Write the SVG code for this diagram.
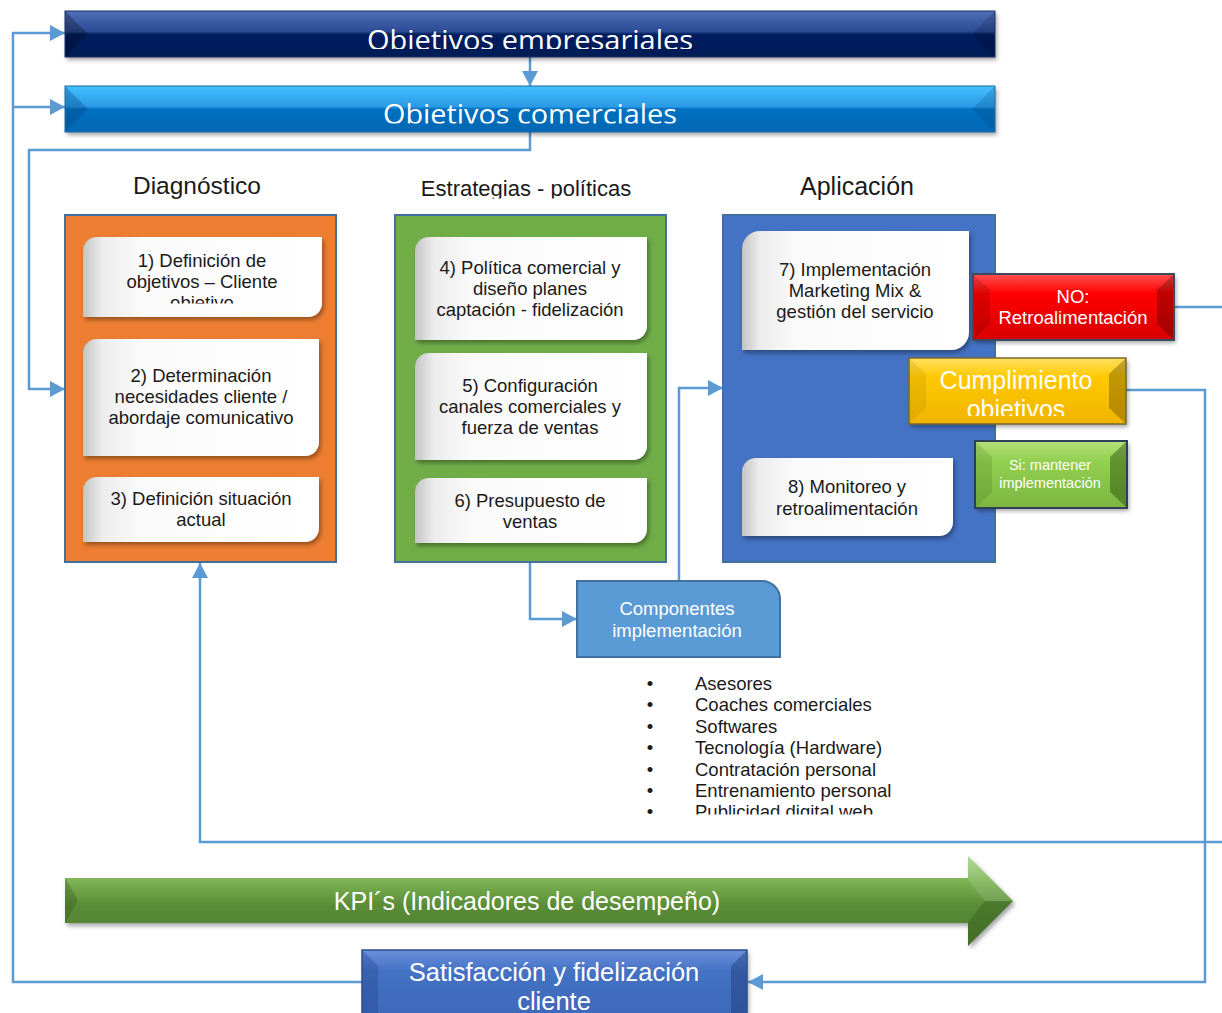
<svg xmlns="http://www.w3.org/2000/svg" width="1222" height="1013" viewBox="0 0 1222 1013">
  <style>
    .t { font-family: "Liberation Sans", Arial, sans-serif; fill: #1a1a1a; }
    .w { font-family: "Liberation Sans", Arial, sans-serif; fill: #ffffff; }
    .c { font-family: "Open Sans", "Liberation Sans", sans-serif; fill: #ffffff; }
    .mid { text-anchor: middle; }
    .conn { fill: none; stroke: #5b9bd5; stroke-width: 2.5; }
    .frame { stroke: #41719c; stroke-width: 2; }
    .card { fill: url(#cardFill); filter: url(#shadow); }
  </style>
  <defs>
    <marker id="arrow" markerUnits="userSpaceOnUse" markerWidth="16" markerHeight="16" refX="15" refY="8" orient="auto">
      <path d="M0,0 L15,8 L0,16 Z" fill="#5b9bd5"/>
    </marker>
    <filter id="shadow" x="-10%" y="-10%" width="125%" height="130%">
      <feDropShadow dx="2" dy="3" stdDeviation="2" flood-color="#000" flood-opacity="0.35"/>
    </filter>
    <linearGradient id="cardFill" x1="0" y1="0" x2="1" y2="0">
      <stop offset="0" stop-color="#c4c4c4"/>
      <stop offset="0.08" stop-color="#ececec"/>
      <stop offset="0.25" stop-color="#fbfbfb"/>
      <stop offset="1" stop-color="#ffffff"/>
    </linearGradient>
    <linearGradient id="navy" x1="0" y1="0" x2="0" y2="1">
      <stop offset="0" stop-color="#5070b8"/>
      <stop offset="0.45" stop-color="#2a4a94"/>
      <stop offset="0.5" stop-color="#002060"/>
      <stop offset="1" stop-color="#001b55"/>
    </linearGradient>
    <linearGradient id="sky" x1="0" y1="0" x2="0" y2="1">
      <stop offset="0" stop-color="#45c0ff"/>
      <stop offset="0.45" stop-color="#2a9ae6"/>
      <stop offset="0.5" stop-color="#0070c0"/>
      <stop offset="1" stop-color="#0068b4"/>
    </linearGradient>
    <linearGradient id="royal" x1="0" y1="0" x2="0" y2="1">
      <stop offset="0" stop-color="#6b90dc"/>
      <stop offset="0.3" stop-color="#4472c4"/>
      <stop offset="1" stop-color="#3d68b8"/>
    </linearGradient>
    <linearGradient id="red" x1="0" y1="0" x2="0" y2="1">
      <stop offset="0" stop-color="#ff5050"/>
      <stop offset="0.3" stop-color="#ff0000"/>
      <stop offset="1" stop-color="#d80000"/>
    </linearGradient>
    <linearGradient id="gold" x1="0" y1="0" x2="0" y2="1">
      <stop offset="0" stop-color="#ffe060"/>
      <stop offset="0.3" stop-color="#ffc800"/>
      <stop offset="1" stop-color="#f0b400"/>
    </linearGradient>
    <linearGradient id="lime" x1="0" y1="0" x2="0" y2="1">
      <stop offset="0" stop-color="#b4e07a"/>
      <stop offset="0.3" stop-color="#92d050"/>
      <stop offset="1" stop-color="#7cb640"/>
    </linearGradient>
    <linearGradient id="kpi" x1="0" y1="0" x2="0" y2="1">
      <stop offset="0" stop-color="#a9d88a"/>
      <stop offset="0.3" stop-color="#79b050"/>
      <stop offset="0.55" stop-color="#5a8c36"/>
      <stop offset="1" stop-color="#507e30"/>
    </linearGradient>
    <clipPath id="clipBar1"><rect x="65" y="11" width="930" height="38"/></clipPath>
    <clipPath id="clipBar2"><rect x="65" y="86" width="930" height="37.5"/></clipPath>
    <clipPath id="clipHead2"><rect x="395" y="160" width="270" height="38.5"/></clipPath>
    <clipPath id="clipCard1"><rect x="83" y="237" width="239" height="66.5"/></clipPath>
    <clipPath id="clipGoal"><rect x="909" y="358" width="217" height="58"/></clipPath>
    <clipPath id="clipList"><rect x="600" y="660" width="400" height="154.5"/></clipPath>
    <clipPath id="clipSat"><rect x="362" y="950" width="385" height="60"/></clipPath>
  </defs>

  <rect width="1222" height="1013" fill="#ffffff"/>

  <!-- connectors -->
  <g id="connectors">
    <path class="conn" d="M530,57 V86" marker-end="url(#arrow)"/>
    <path class="conn" d="M530,132 V150 H29 V389 H65" marker-end="url(#arrow)"/>
    <path class="conn" d="M362,982 H13 V33 H65" marker-end="url(#arrow)"/>
    <path class="conn" d="M13,107 H65" marker-end="url(#arrow)"/>
    <path class="conn" d="M530,562 V619 H577" marker-end="url(#arrow)"/>
    <path class="conn" d="M679,581 V388 H723" marker-end="url(#arrow)"/>
    <path class="conn" d="M1175,307 H1222"/>
    <path class="conn" d="M1126,390 H1205 V982 H748" marker-end="url(#arrow)"/>
    <path class="conn" d="M1222,842 H200 V563" marker-end="url(#arrow)"/>
  </g>

  <!-- top bars -->
  <g id="objetivos-empresariales">
    <rect x="65" y="11" width="930" height="46" fill="url(#navy)" filter="url(#shadow)"/>
    <polygon points="65,11 88,34 65,57" fill="#000" opacity="0.25"/>
    <polygon points="995,11 972,34 995,57" fill="#000" opacity="0.15"/>
    <rect x="65" y="11" width="930" height="46" fill="none" stroke="#1a2f66" stroke-width="1"/>
    <text class="c mid" x="530" y="49.5" font-size="26.5" textLength="326" lengthAdjust="spacingAndGlyphs" clip-path="url(#clipBar1)">Objetivos empresariales</text>
  </g>
  <g id="objetivos-comerciales">
    <rect x="65" y="86" width="930" height="46" fill="url(#sky)" filter="url(#shadow)"/>
    <polygon points="65,86 88,109 65,132" fill="#003a70" opacity="0.3"/>
    <polygon points="995,86 972,109 995,132" fill="#003a70" opacity="0.2"/>
    <rect x="65" y="86" width="930" height="46" fill="none" stroke="#1e6aa8" stroke-width="1"/>
    <text class="c mid" x="530" y="123.5" font-size="26.5" textLength="294" lengthAdjust="spacingAndGlyphs" clip-path="url(#clipBar2)">Objetivos comerciales</text>
  </g>

  <!-- section headings -->
  <text class="t mid" x="197" y="194" font-size="24.5">Diagnóstico</text>
  <text class="t mid" x="526" y="196" font-size="22" clip-path="url(#clipHead2)">Estrategias - políticas</text>
  <text class="t mid" x="857" y="195" font-size="25">Aplicación</text>

  <!-- Diagnóstico -->
  <g id="diagnostico">
    <rect class="frame" x="65" y="215" width="271" height="347" fill="#ed7d31"/>
    <g id="paso-1">
      <path class="card" d="M97,237 H322 V303 A14,14 0 0 1 308,317 H83 V251 A14,14 0 0 1 97,237 Z"/>
      <g clip-path="url(#clipCard1)">
        <text class="t mid" x="202" y="267" font-size="18.5">1) Definición de</text>
        <text class="t mid" x="202" y="288" font-size="18.5">objetivos – Cliente</text>
        <text class="t mid" x="202" y="309" font-size="18.5">objetivo</text>
      </g>
    </g>
    <g id="paso-2">
      <path class="card" d="M97,339 H319 V442 A14,14 0 0 1 305,456 H83 V353 A14,14 0 0 1 97,339 Z"/>
      <text class="t mid" x="201" y="382" font-size="18.5">2) Determinación</text>
      <text class="t mid" x="201" y="403" font-size="18.5">necesidades cliente /</text>
      <text class="t mid" x="201" y="424" font-size="18.5">abordaje comunicativo</text>
    </g>
    <g id="paso-3">
      <path class="card" d="M97,477 H319 V528 A14,14 0 0 1 305,542 H83 V491 A14,14 0 0 1 97,477 Z"/>
      <text class="t mid" x="201" y="505" font-size="18.5">3) Definición situación</text>
      <text class="t mid" x="201" y="526" font-size="18.5">actual</text>
    </g>
  </g>

  <!-- Estrategias - políticas -->
  <g id="estrategias">
    <rect class="frame" x="395" y="215" width="271" height="347" fill="#70ad47"/>
    <g id="paso-4">
      <path class="card" d="M429,237 H647 V326 A14,14 0 0 1 633,340 H415 V251 A14,14 0 0 1 429,237 Z"/>
      <text class="t mid" x="530" y="274" font-size="18.5">4) Política comercial y</text>
      <text class="t mid" x="530" y="295" font-size="18.5">diseño planes</text>
      <text class="t mid" x="530" y="316" font-size="18.5">captación - fidelización</text>
    </g>
    <g id="paso-5">
      <path class="card" d="M429,353 H647 V446 A14,14 0 0 1 633,460 H415 V367 A14,14 0 0 1 429,353 Z"/>
      <text class="t mid" x="530" y="392" font-size="18.5">5) Configuración</text>
      <text class="t mid" x="530" y="413" font-size="18.5">canales comerciales y</text>
      <text class="t mid" x="530" y="434" font-size="18.5">fuerza de ventas</text>
    </g>
    <g id="paso-6">
      <path class="card" d="M429,478 H647 V529 A14,14 0 0 1 633,543 H415 V492 A14,14 0 0 1 429,478 Z"/>
      <text class="t mid" x="530" y="507" font-size="18.5">6) Presupuesto de</text>
      <text class="t mid" x="530" y="528" font-size="18.5">ventas</text>
    </g>
  </g>

  <!-- Aplicación -->
  <g id="aplicacion">
    <rect class="frame" x="723" y="215" width="272" height="347" fill="#4472c4"/>
    <g id="paso-7">
      <path class="card" d="M760,231 H969 V332 A18,18 0 0 1 951,350 H742 V249 A18,18 0 0 1 760,231 Z"/>
      <text class="t mid" x="855" y="276" font-size="18.5">7) Implementación</text>
      <text class="t mid" x="855" y="297" font-size="18.5">Marketing Mix &amp;</text>
      <text class="t mid" x="855" y="318" font-size="18.5">gestión del servicio</text>
    </g>
    <g id="paso-8">
      <path class="card" d="M756,458 H953 V522 A14,14 0 0 1 939,536 H742 V472 A14,14 0 0 1 756,458 Z"/>
      <text class="t mid" x="847" y="493" font-size="18.5">8) Monitoreo y</text>
      <text class="t mid" x="847" y="515" font-size="18.5">retroalimentación</text>
    </g>
  </g>

  <g id="no-retroalimentacion">
    <rect x="973" y="274" width="201" height="66" fill="url(#red)" filter="url(#shadow)"/>
    <polygon points="973,274 990,290 990,324 973,340" fill="#000" opacity="0.12"/>
    <polygon points="1174,274 1157,290 1157,324 1174,340" fill="#000" opacity="0.25"/>
    <rect x="973" y="274" width="201" height="66" fill="none" stroke="#3b4a5e" stroke-width="2"/>
    <text class="w mid" x="1073" y="303" font-size="18.5">NO:</text>
    <text class="w mid" x="1073" y="324" font-size="18.5">Retroalimentación</text>
  </g>

  <g id="cumplimiento-objetivos">
    <rect x="909" y="358" width="217" height="66" fill="url(#gold)" filter="url(#shadow)"/>
    <polygon points="909,358 926,374 926,408 909,424" fill="#8a6a00" opacity="0.15"/>
    <polygon points="1126,358 1109,374 1109,408 1126,424" fill="#4a3a00" opacity="0.35"/>
    <rect x="909" y="358" width="217" height="66" fill="none" stroke="#7a6a30" stroke-width="1.5"/>
    <g clip-path="url(#clipGoal)">
      <text class="w mid" x="1016" y="389" font-size="25">Cumplimiento</text>
      <text class="w mid" x="1016" y="418" font-size="25">objetivos</text>
    </g>
  </g>

  <g id="si-mantener">
    <rect x="975" y="441" width="152" height="67" fill="url(#lime)" filter="url(#shadow)"/>
    <polygon points="975,441 992,457 992,492 975,508" fill="#2a4a10" opacity="0.15"/>
    <polygon points="1127,441 1110,457 1110,492 1127,508" fill="#1a3a00" opacity="0.4"/>
    <rect x="975" y="441" width="152" height="67" fill="none" stroke="#2e4058" stroke-width="2"/>
    <text class="w mid" x="1050" y="470" font-size="14.5">Si: mantener</text>
    <text class="w mid" x="1050" y="488" font-size="14.5">implementación</text>
  </g>

  <!-- Componentes -->
  <g id="componentes">
    <path d="M577,581 H762 A18,18 0 0 1 780,599 V657 H577 Z" fill="#5b9bd5" stroke="#41719c" stroke-width="2"/>
    <text class="w mid" x="677" y="615" font-size="18.5">Componentes</text>
    <text class="w mid" x="677" y="637" font-size="18.5">implementación</text>
  </g>

  <g id="lista-componentes" clip-path="url(#clipList)">
    <g class="t mid" font-size="18.5">
      <text x="650" y="690">•</text>
      <text x="650" y="711">•</text>
      <text x="650" y="733">•</text>
      <text x="650" y="754">•</text>
      <text x="650" y="776">•</text>
      <text x="650" y="797">•</text>
      <text x="650" y="818">•</text>
    </g>
    <g class="t" font-size="18.5">
      <text x="695" y="690">Asesores</text>
      <text x="695" y="711">Coaches comerciales</text>
      <text x="695" y="733">Softwares</text>
      <text x="695" y="754">Tecnología (Hardware)</text>
      <text x="695" y="776">Contratación personal</text>
      <text x="695" y="797">Entrenamiento personal</text>
      <text x="695" y="818">Publicidad digital web</text>
    </g>
  </g>

  <!-- KPI arrow -->
  <g id="kpi">
    <path d="M65,878 H968 V856 L1013,901 L968,946 V923 H65 Z" fill="url(#kpi)" filter="url(#shadow)"/>
    <polygon points="65,878 78,900 65,923" fill="#2e5018" opacity="0.3"/>
    <polygon points="968,856 1013,901 985,901 968,880" fill="#ffffff" opacity="0.12"/>
    <polygon points="968,946 1013,901 985,901 968,922" fill="#1e3a10" opacity="0.25"/>
    <text class="w mid" x="527" y="910" font-size="25">KPI´s (Indicadores de desempeño)</text>
  </g>

  <!-- Satisfacción -->
  <g id="satisfaccion">
    <rect x="362" y="950" width="385" height="70" fill="url(#royal)" filter="url(#shadow)"/>
    <polygon points="362,950 378,966 378,1013 362,1013" fill="#1a3a80" opacity="0.3"/>
    <polygon points="747,950 731,966 731,1013 747,1013" fill="#102a60" opacity="0.35"/>
    <rect x="362" y="950" width="385" height="70" fill="none" stroke="#2f4f8a" stroke-width="1.5"/>
    <g clip-path="url(#clipSat)">
      <text class="w mid" x="554" y="981" font-size="25.5">Satisfacción y fidelización</text>
      <text class="w mid" x="554" y="1010" font-size="25.5">cliente</text>
    </g>
  </g>
</svg>
